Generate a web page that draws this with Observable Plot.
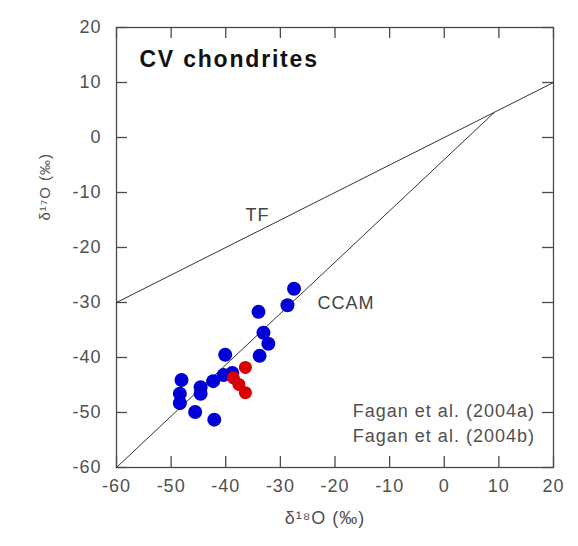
<!DOCTYPE html>
<html>
<head>
<meta charset="utf-8">
<script src="https://cdn.jsdelivr.net/npm/d3@7"></script>
<script src="https://cdn.jsdelivr.net/npm/@observablehq/plot@0.6"></script>
<style>
  body { margin: 0; background: #fff; }
  #chart svg { font-family: "Liberation Sans", Arial, sans-serif; }
  #chart svg text { letter-spacing: 1px; }
</style>
</head>
<body>
<div id="chart"></div>
<script>
// Data
const xTicks = [-60, -50, -40, -30, -20, -10, 0, 10, 20];
const yTicks = [-60, -50, -40, -30, -20, -10, 0, 10, 20];

// Fagan et al. (2004a) - blue
const blueX = [-27.5, -28.7, -34.0, -33.1, -32.2, -33.8, -40.1, -40.4, -42.3, -44.6, -44.6, -48.1, -48.4, -48.4, -45.6, -42.1, -38.8];
const blueY = [-27.5, -30.5, -31.7, -35.5, -37.5, -39.7, -39.5, -43.2, -44.3, -45.4, -46.6, -44.1, -46.6, -48.3, -49.9, -51.3, -42.8];
// Fagan et al. (2004b) - red
const redX = [-36.4, -38.6, -37.6, -36.4];
const redY = [-41.8, -43.7, -44.9, -46.4];

// Reference lines
const tfX = [-60, 20];
const tfY = [-30, 10];
const ccamX = [-60, 9.1];
const ccamY = [-60, 4.5];

const blue = blueX.map((x, i) => ({x, y: blueY[i]}));
const red = redX.map((x, i) => ({x, y: redY[i]}));
const tf = tfX.map((x, i) => ({x, y: tfY[i]}));
const ccam = ccamX.map((x, i) => ({x, y: ccamY[i]}));

const W = 578, H = 546;
const mL = 116, mR = 25, mT = 27, mB = 79;
const innerW = W - mL - mR, innerH = H - mT - mB;
const tickLen = 11;
const axisColor = "#4a4a4a";
const textColor = "#505050";

const chart = Plot.plot({
  width: W,
  height: H,
  marginLeft: mL,
  marginRight: mR,
  marginTop: mT,
  marginBottom: mB,
  x: {domain: [-60, 20]},
  y: {domain: [-60, 20]},
  style: {fontFamily: "'Liberation Sans', Arial, sans-serif", background: "#fff"},
  marks: [
    Plot.frame({stroke: axisColor, strokeWidth: 1.3}),
    // inward ticks: bottom, top, left, right
    Plot.ruleX(xTicks, {x: d => d, insetTop: innerH - tickLen, stroke: axisColor, strokeWidth: 1.3}),
    Plot.ruleX(xTicks, {x: d => d, insetBottom: innerH - tickLen, stroke: axisColor, strokeWidth: 1.3}),
    Plot.ruleY(yTicks, {y: d => d, insetRight: innerW - tickLen, stroke: axisColor, strokeWidth: 1.3}),
    Plot.ruleY(yTicks, {y: d => d, insetLeft: innerW - tickLen, stroke: axisColor, strokeWidth: 1.3}),
    Plot.axisX(xTicks, {anchor: "bottom", tickSize: 0, tickPadding: 12, tickFormat: d => String(d), fontSize: 18, color: textColor, label: null}),
    Plot.axisY(yTicks, {anchor: "left", tickSize: 0, tickPadding: 15, tickFormat: d => String(d), fontSize: 18, color: textColor, label: null}),
    // reference lines
    Plot.line(tf, {x: "x", y: "y", stroke: "#333", strokeWidth: 1}),
    Plot.line(ccam, {x: "x", y: "y", stroke: "#333", strokeWidth: 1}),
    // data points
    Plot.dot(blue, {x: "x", y: "y", r: 7, fill: "#0000d6", stroke: "none"}),
    Plot.dot(red, {x: "x", y: "y", r: 6.5, fill: "#d80000", stroke: "none"}),
    // annotations
    Plot.text(["CV chondrites"], {x: -55.8, y: 14.1, text: d => d, textAnchor: "start", fontSize: 23, fontWeight: "bold", fill: "#111"}),
    Plot.text(["TF"], {x: -34.2, y: -14.2, text: d => d, fontSize: 18, fill: "#444"}),
    Plot.text(["CCAM"], {x: -23.2, y: -30.2, text: d => d, textAnchor: "start", fontSize: 18, fill: "#444"}),
    Plot.text(["Fagan et al. (2004a)"], {x: 16.6, y: -49.8, text: d => d, textAnchor: "end", fontSize: 18, fill: textColor}),
    Plot.text(["Fagan et al. (2004b)"], {x: 16.6, y: -54.4, text: d => d, textAnchor: "end", fontSize: 18, fill: textColor}),
    // axis labels
    Plot.text(["δ¹⁸O (‰)"], {frameAnchor: "bottom", dy: 56, dx: -10, text: d => d, fontSize: 18, fill: textColor}),
    Plot.text(["δ¹⁷O (‰)"], {frameAnchor: "left", dx: -71, dy: -27, rotate: -90, text: d => d, fontSize: 15, fill: textColor})
  ]
});

d3.select(chart).selectAll("text")
  .filter(function() { return this.textContent === "CV chondrites"; })
  .style("letter-spacing", "1.8px");

document.getElementById("chart").appendChild(chart);
</script>
</body>
</html>
